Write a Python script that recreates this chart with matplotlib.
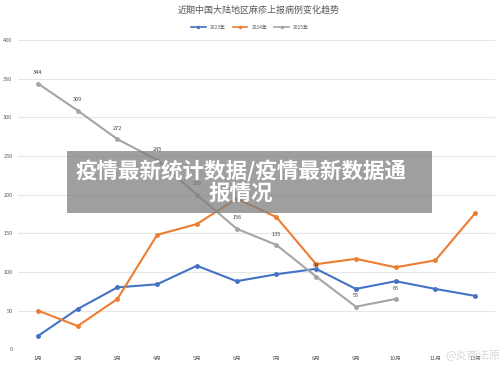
import matplotlib.pyplot as plt
from matplotlib.patches import Rectangle
from matplotlib.lines import Line2D

plt.rcParams["font.family"] = ["Noto Sans CJK SC", "DejaVu Sans"]

months = ["1月", "2月", "3月", "4月", "5月", "6月", "7月", "8月", "9月", "10月", "11月", "12月"]
cases_2023 = [17, 52, 80, 84, 108, 88, 97, 104, 78, 88, 78, 69]
cases_2024 = [50, 30, 65, 148, 162, 195, 171, 110, 117, 106, 115, 176]
cases_2025 = [344, 309, 272, 245, 200, 156, 135, 94, 55, 65]
series_names = ["2023年", "2024年", "2025年"]
title = "近期中国大陆地区麻疹上报病例变化趋势"
overlay_text = "疫情最新统计数据/疫情最新数据通\n报情况"

colors = ["#4472C4", "#ED7D31", "#A5A5A5"]

fig = plt.figure(figsize=(5, 3.66), dpi=100)
ax = fig.add_axes([0.036, 0.046, 0.954, 0.844])

x_all = list(range(len(months)))
ax.plot(x_all, cases_2023, color=colors[0], lw=1.5, marker="o", ms=2.5)
ax.plot(x_all, cases_2024, color=colors[1], lw=1.5, marker="o", ms=2.5)
x25 = list(range(len(cases_2025)))
ax.plot(x25, cases_2025, color=colors[2], lw=1.5, marker="o", ms=2.5)
for xi, v in zip(x25, cases_2025):
    ax.annotate(str(v), (xi, v), xytext=(0, 6), textcoords="offset points",
                ha="center", va="bottom", fontsize=4, color="#404040")

ax.set_xlim(-0.5, len(months) - 0.5)
ax.set_ylim(0, 400)
ax.set_yticks(range(0, 401, 50))
ax.set_xticks(x_all)
ax.set_xticklabels(months)
ax.tick_params(axis="both", length=0, labelsize=4, colors="#595959")
ax.tick_params(axis="y", pad=4)
ax.tick_params(axis="x", pad=5)
ax.grid(axis="y", color="#e6e6e6", lw=0.8)
ax.set_axisbelow(True)
for s in ax.spines.values():
    s.set_visible(False)

fig.text(0.518, 0.972, title, ha="center", va="center", fontsize=6.5, color="#595959")
handles = [Line2D([0], [0], color=c, lw=1.2, marker="o", ms=1.5) for c in colors]
fig.legend(handles, series_names, loc="center", bbox_to_anchor=(0.5, 0.926), ncol=3,
           frameon=False, fontsize=3.5, handlelength=3, columnspacing=1.5,
           labelcolor="#595959")

# overlay banner
fig.patches.append(Rectangle((67 / 500, 1 - 213 / 366), 365 / 500, 62 / 366,
                             transform=fig.transFigure, facecolor="#7f7f7f",
                             alpha=0.75, edgecolor="none", zorder=5))
fig.text(0.482, 1 - 182 / 366, overlay_text, ha="center", va="center", fontsize=15.5,
         fontweight="bold", color="white", linespacing=1.05, zorder=6)

fig.text(0.945, 0.03, "@炎斋法原", ha="center", va="center", fontsize=8,
         color="#c8c8c8", alpha=0.7, zorder=6)

fig.savefig("out.png", dpi=100)
